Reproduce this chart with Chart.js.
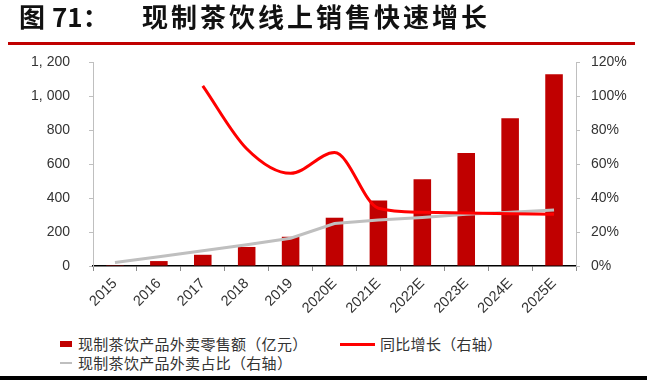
<!DOCTYPE html>
<html>
<head>
<meta charset="utf-8">
<script src="https://cdn.jsdelivr.net/npm/chart.js@4/dist/chart.umd.min.js"></script>
<style>
  html, body { margin: 0; padding: 0; background: #fff; }
  #wrap { position: relative; width: 647px; height: 380px; overflow: hidden; background: #fff; }
  #c { position: absolute; left: 0; top: 0; }
  .t { position: absolute; font-family: "Noto Sans CJK SC", sans-serif; font-weight: 700; font-size: 26px; line-height: 32px; color: #111; top: 0; white-space: nowrap; }
  .lg { position: absolute; font-family: "Noto Sans CJK SC", sans-serif; font-size: 15px; line-height: 20px; color: #333; white-space: nowrap; letter-spacing: 0.3px; }
</style>
</head>
<body>
<div id="wrap">
  <canvas id="c" width="647" height="330"></canvas>
  <div class="t" style="left:19px;">图</div>
  <div class="t" style="left:52px;">71：</div>
  <div class="t" style="left:142px; letter-spacing:3px;">现制茶饮线上销售快速增长</div>
  <div style="position:absolute; left:8px; top:42px; width:627px; height:3px; background:#c00000;"></div>

  <div style="position:absolute; left:60px; top:341px; width:12px; height:6px; background:#c00000;"></div>
  <div class="lg" style="left:78px; top:334px;">现制茶饮产品外卖零售额（亿元）</div>
  <div style="position:absolute; left:340px; top:343px; width:35px; height:3px; background:#ff0000;"></div>
  <div class="lg" style="left:380px; top:334px;">同比增长（右轴）</div>
  <div style="position:absolute; left:60px; top:362px; width:12px; height:2px; background:#bfbfbf;"></div>
  <div class="lg" style="left:78px; top:353px;">现制茶饮产品外卖占比（右轴）</div>

  <div style="position:absolute; left:0; top:376px; width:647px; height:4px; background:#000;"></div>
</div>
<script>
const categories = ['2015','2016','2017','2018','2019','2020E','2021E','2022E','2023E','2024E','2025E'];
const salesValues = [5, 29, 66, 112, 172, 284, 386, 510, 665, 869, 1128];
const growthValues = [null, null, 106, 69, 54.5, 66.7, 34, 31.6, 31.2, 30.8, 30.4];
const shareValues = [2, 5.5, 9, 12.5, 16.3, 25, 27, 28.6, 30.4, 31.6, 33];
const leftTicks = [0, 200, 400, 600, 800, 1000, 1200];
const rightTicks = [0, 20, 40, 60, 80, 100, 120];

function fmtThousands(v) {
  const s = String(v);
  if (v >= 1000) return s.slice(0, s.length - 3) + ', ' + s.slice(s.length - 3);
  return s;
}

const tickFont = { family: '"Liberation Sans", Arial, sans-serif', size: 14 };

new Chart(document.getElementById('c'), {
  data: {
    labels: categories,
    datasets: [
      {
        type: 'line', label: '同比增长（右轴）', data: growthValues, yAxisID: 'y1',
        borderColor: '#ff0000', borderWidth: 3, pointRadius: 0, cubicInterpolationMode: 'monotone',
        spanGaps: false, order: 0
      },
      {
        type: 'line', label: '现制茶饮产品外卖占比（右轴）', data: shareValues, yAxisID: 'y1',
        borderColor: '#bfbfbf', borderWidth: 3, pointRadius: 0, tension: 0, order: 1
      },
      {
        type: 'bar', label: '现制茶饮产品外卖零售额（亿元）', data: salesValues, yAxisID: 'y',
        backgroundColor: '#c00000', borderWidth: 0,
        barPercentage: 0.4, categoryPercentage: 1.0, order: 2
      }
    ]
  },
  options: {
    responsive: false,
    animation: false,
    layout: { autoPadding: false, padding: { top: 62, left: 0, right: 0, bottom: 0 } },
    plugins: { legend: { display: false }, tooltip: { enabled: false } },
    scales: {
      x: {
        type: 'category',
        offset: true,
        afterFit: (s) => { s.height = 64; },
        grid: { display: true, drawOnChartArea: false, drawTicks: true, tickLength: 5, color: '#8c8c8c', offset: true },
        border: { display: true, color: '#000', width: 1.5 },
        ticks: { font: { family: '"Liberation Sans", Arial, sans-serif', size: 14.5 }, color: '#333', minRotation: 45, maxRotation: 45, padding: 4, autoSkip: false }
      },
      y: {
        position: 'left', min: 0, max: 1200,
        afterFit: (s) => { s.width = 93; },
        afterBuildTicks: (s) => { s.ticks = leftTicks.map(v => ({ value: v })); },
        grid: { display: true, drawOnChartArea: false, drawTicks: true, tickLength: 4, color: '#bfbfbf' },
        border: { display: true, color: '#bfbfbf', width: 1 },
        ticks: { font: tickFont, color: '#333', padding: 19, callback: (v) => fmtThousands(v) }
      },
      y1: {
        position: 'right', min: 0, max: 120,
        afterFit: (s) => { s.width = 71; },
        afterBuildTicks: (s) => { s.ticks = rightTicks.map(v => ({ value: v })); },
        grid: { display: true, drawOnChartArea: false, drawTicks: true, tickLength: 4, color: '#bfbfbf' },
        border: { display: true, color: '#bfbfbf', width: 1 },
        ticks: { font: tickFont, color: '#333', padding: 11, callback: (v) => v + '%' }
      }
    }
  }
});
</script>
</body>
</html>
